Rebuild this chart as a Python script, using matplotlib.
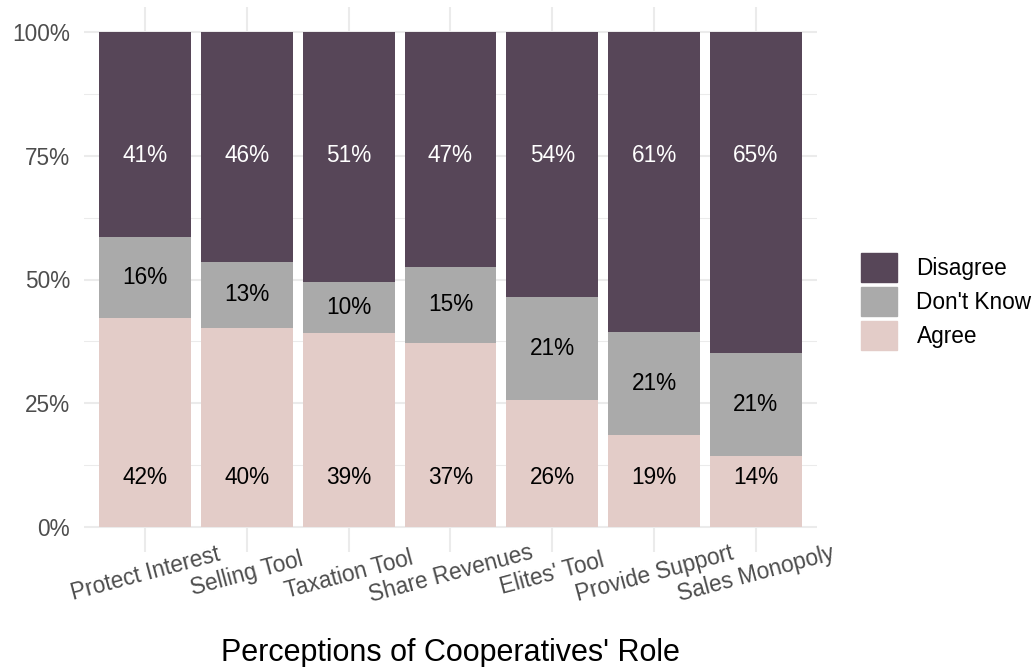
import matplotlib.pyplot as plt
from matplotlib.patches import Patch
import numpy as np

categories = ["Protect Interest", "Selling Tool", "Taxation Tool", "Share Revenues",
              "Elites' Tool", "Provide Support", "Sales Monopoly"]
agree = [42.2, 40.2, 39.2, 37.2, 25.7, 18.6, 14.3]
dont_know = [16.4, 13.4, 10.2, 15.4, 20.8, 20.8, 20.9]
disagree = [41.4, 46.4, 50.6, 47.4, 53.5, 60.6, 64.8]

colors = {"Agree": "#E3CCC8", "Don't Know": "#AAAAAA", "Disagree": "#574658"}

plt.rcParams['font.family'] = ['Liberation Sans', 'DejaVu Sans']
FS = 16.3

fig = plt.figure(figsize=(10.36, 6.67), dpi=100)
ax = fig.add_axes([84/1036, 1 - 552/667, (817 - 84)/1036, (552 - 7)/667])

x = np.arange(len(categories))
a = np.array(agree) / 100
d = np.array(dont_know) / 100
s = np.array(disagree) / 100

ax.bar(x, a, width=0.9, color=colors["Agree"], zorder=2)
ax.bar(x, d, width=0.9, bottom=a, color=colors["Don't Know"], zorder=2)
ax.bar(x, s, width=0.9, bottom=a + d, color=colors["Disagree"], zorder=2)

# value labels
for i in range(len(categories)):
    ax.text(x[i], 0.1, f"{round(agree[i])}%", ha="center", va="center",
            fontsize=FS, color="black", zorder=3)
    ax.text(x[i], a[i] + d[i] / 2, f"{round(dont_know[i])}%", ha="center", va="center",
            fontsize=FS, color="black", zorder=3)
    ax.text(x[i], 0.75, f"{round(disagree[i])}%", ha="center", va="center",
            fontsize=FS, color="white", zorder=3)

ax.set_xlim(-0.6, len(categories) - 0.4)
ax.set_ylim(-0.05, 1.05)
ax.set_yticks([0, 0.25, 0.5, 0.75, 1.0])
ax.set_yticklabels(["0%", "25%", "50%", "75%", "100%"])
ax.set_yticks([0.125, 0.375, 0.625, 0.875], minor=True)
ax.set_xticks(x)
ax.set_xticklabels(categories, rotation=15, ha="center", va="center", rotation_mode="anchor")

ax.grid(True, which="major", color="#EBEBEB", linewidth=1.5, zorder=0)
ax.grid(True, which="minor", axis="y", color="#EBEBEB", linewidth=0.75, zorder=0)
ax.set_axisbelow(True)
for sp in ax.spines.values():
    sp.set_visible(False)
ax.tick_params(which="both", length=0)
ax.tick_params(axis="y", labelsize=FS, labelcolor="#4D4D4D", pad=10)
ax.tick_params(axis="x", labelsize=FS, labelcolor="#4D4D4D", pad=16)

ax.set_xlabel("Perceptions of Cooperatives' Role", fontsize=22, labelpad=22)

handles = [Patch(color=colors[k]) for k in ["Disagree", "Don't Know", "Agree"]]
ax.legend(handles, ["Disagree", "Don't Know", "Agree"], loc="center left",
          bbox_to_anchor=(1.048, 0.46), frameon=False, fontsize=FS,
          handlelength=1.59, handleheight=1.59, labelspacing=0.22, handletextpad=0.85,
          borderaxespad=0)

fig.savefig("out.png", dpi=100)
